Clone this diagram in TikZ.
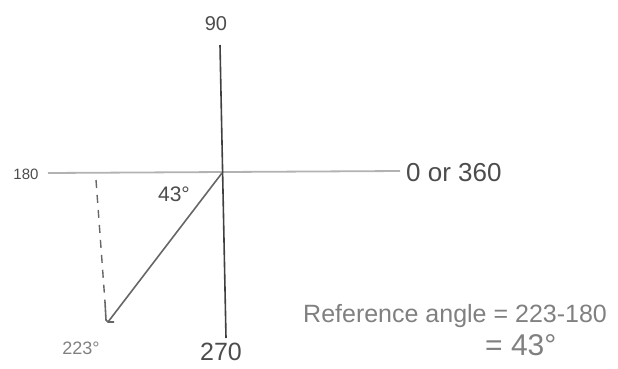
\documentclass[tikz,border=0pt]{standalone}
\usepackage{fontspec}
\setmainfont{Liberation Sans}
\begin{document}
\begin{tikzpicture}[x=1pt,y=-1pt,
  axisv/.style={draw=black!75,line width=1.6pt},
  axish/.style={draw=black!30,line width=1.8pt},
  ray/.style={draw=black!60,line width=1.6pt},
  guide/.style={draw=black!60,line width=1.4pt,dash pattern=on 8pt off 7pt},
  lbl/.style={text=black!70,inner sep=1pt},
  lbllight/.style={text=black!50,inner sep=1pt}]
\useasboundingbox (0,0) rectangle (618,368);
\coordinate (O) at (222,173);
\coordinate (top) at (220,45);
\coordinate (bot) at (226,338);
\coordinate (left) at (48,173);
\coordinate (right) at (400,171);
\coordinate (P) at (108,322);
\coordinate (D) at (96,180);
\coordinate (Dl) at (105,302);
\draw[axish] (left) -- (right);
\draw[axisv] (top) -- (bot);
\draw[ray] (O) -- (P);
\draw[guide] (D) -- (Dl);
\draw[ray] (Dl) -- (106,320) -- (P) -- (114,322);
\node[lbl,font=\fontsize{20}{22}\selectfont] (n90) at (216,24) {90};
\node[lbl,font=\fontsize{15}{17}\selectfont] (n180) at (26,174) {180};
\node[lbl,font=\fontsize{26}{28}\selectfont,anchor=west] (n0) at (405,173) {0 or 360};
\node[lbl,font=\fontsize{21}{23}\selectfont] (n43) at (174,194) {43°};
\node[lbllight,font=\fontsize{18}{20}\selectfont] (n223) at (81,348) {223°};
\node[lbl,font=\fontsize{25}{27}\selectfont] (n270) at (221,352) {270};
\node[lbllight,font=\fontsize{25}{27}\selectfont,anchor=west] (ref) at (302,316) {Reference angle = 223-180};
\node[lbllight,font=\fontsize{30}{32}\selectfont,anchor=west] (res) at (484,345) {= 43°};
\end{tikzpicture}
\end{document}
